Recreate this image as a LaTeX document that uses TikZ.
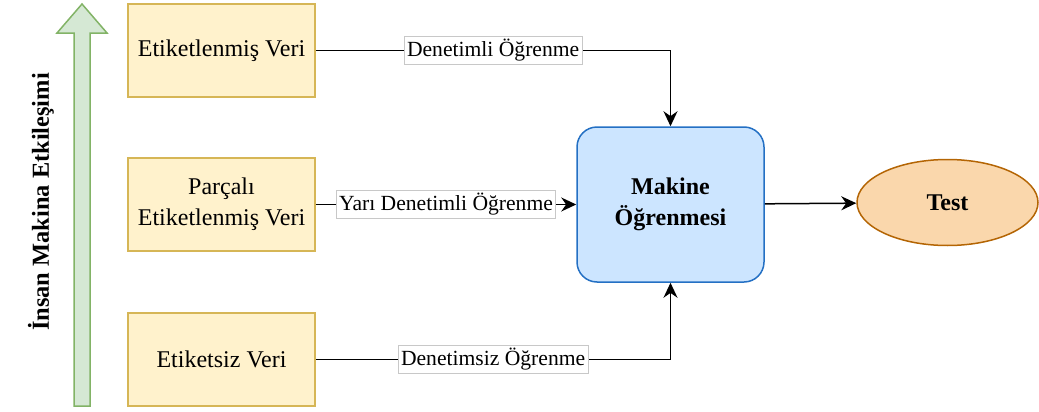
\documentclass[tikz,border=0pt]{standalone}
\usepackage{fontspec}
\setmainfont{Liberation Serif}
\usepackage{tikz}
\usetikzlibrary{arrows.meta,shapes.geometric}
\definecolor{veriyellow}{RGB}{255,242,204}
\definecolor{veriedge}{RGB}{214,182,86}
\definecolor{makineblue}{RGB}{204,229,255}
\definecolor{makineedge}{RGB}{36,112,196}
\definecolor{testorange}{RGB}{250,215,172}
\definecolor{testedge}{RGB}{180,101,4}
\definecolor{okgreen}{RGB}{213,232,212}
\definecolor{okedge}{RGB}{130,179,102}
\definecolor{lblgray}{RGB}{200,200,200}

\begin{document}
\begin{tikzpicture}[x=0.5pt,y=-0.5pt,
    veri/.style={draw=veriedge,fill=veriyellow,line width=0.75pt,minimum width=93.5pt,
      minimum height=46.5pt,align=center,font=\fontsize{12}{15.5}\selectfont},
    conn/.style={line width=0.75pt,-{Stealth[length=7.5pt,width=7pt]}},
    lbl/.style={draw=lblgray,fill=white,line width=0.4pt,inner sep=1.5pt,
      font=\fontsize{10.8}{13}\selectfont}]
  \useasboundingbox (0,0) rectangle (1039,412);
  \fill[okgreen,draw=okedge,line width=0.75pt]
    (74,406) -- (74,33) -- (57,33) -- (82,4) -- (107,33) -- (90,33) -- (90,406) -- cycle;
  \node[rotate=90,font=\fontsize{12.2}{15}\selectfont\bfseries] (etkilesim) at (41,202)
    {İnsan Makina Etkileşimi};
  \node[veri] (etiketli) at (221.5,50.5) {Etiketlenmiş Veri};
  \node[veri] (parcali) at (221.5,204.5) {Parçalı\\Etiketlenmiş Veri};
  \node[veri] (etiketsiz) at (221.5,359.5) {Etiketsiz Veri};
  \node[draw=makineedge,fill=makineblue,line width=0.75pt,rounded corners=10pt,
    minimum width=93.5pt,minimum height=77.5pt,align=center,
    font=\fontsize{12}{15.5}\selectfont\bfseries] (makine) at (670.5,204.5) {Makine\\Öğrenmesi};
  \node[ellipse,draw=testedge,fill=testorange,line width=0.75pt,inner sep=0pt,
    minimum width=90.5pt,minimum height=43pt,font=\fontsize{12}{15}\selectfont\bfseries]
    (test) at (947.5,202.5) {Test};
  \draw[conn] (etiketli.east) -| node[pos=0.25,lbl]{Denetimli Öğrenme} (makine.north);
  \draw[conn] (parcali) -- node[lbl]{Yarı Denetimli Öğrenme} (makine);
  \draw[conn] (etiketsiz.east) -| node[pos=0.25,lbl]{Denetimsiz Öğrenme} (makine.south);
  \draw[conn] (makine) -- (test);
\end{tikzpicture}
\end{document}
